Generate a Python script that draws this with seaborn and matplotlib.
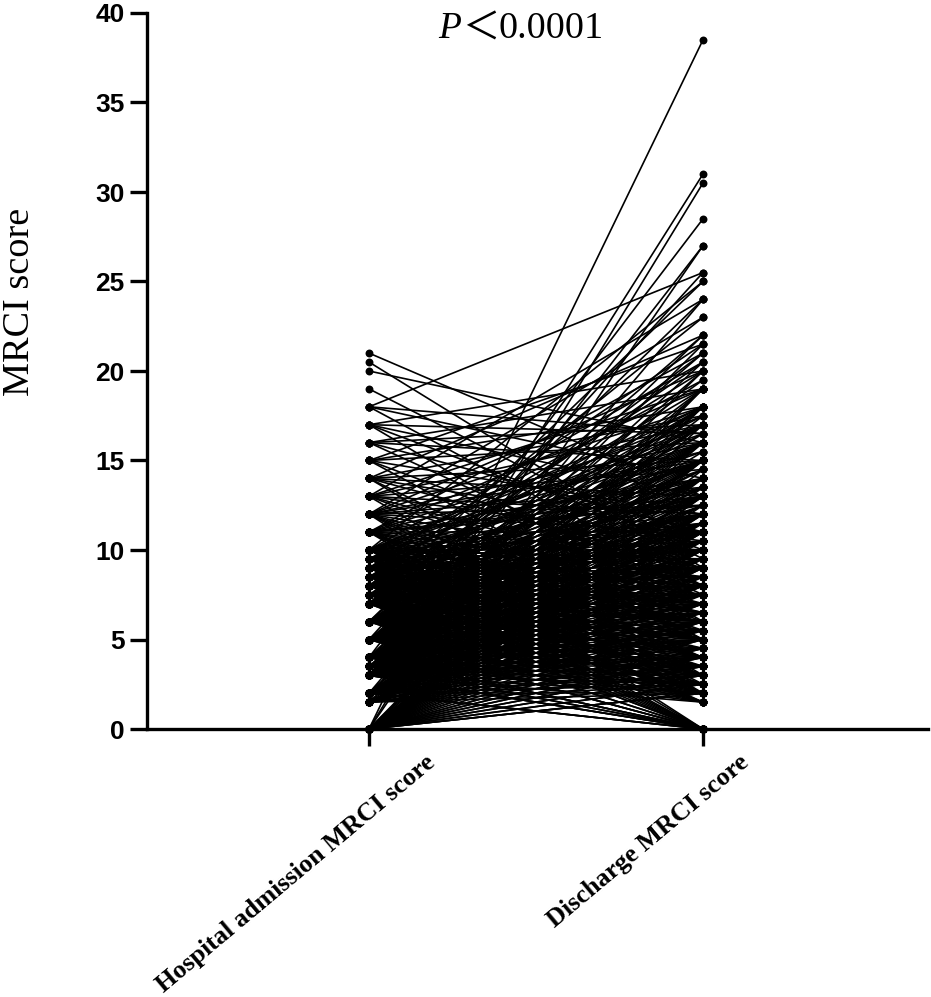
import matplotlib
matplotlib.use("Agg")
import matplotlib.pyplot as plt
import pandas as pd
import seaborn as sns
from matplotlib.transforms import ScaledTranslation

# Discharge scores read for the patients starting at each admission score
from_21 = [13]
from_20_5 = [9]
from_20 = [16]
from_19 = [9.5]
from_18 = [25.5, 14, 8, 16.5]
from_17 = [20, 16.5, 10, 6, 13]
from_16 = [19, 15, 11, 7.5, 17]
from_15 = [21.5, 16, 8, 12, 5, 18]
from_14 = [22, 17.5, 13, 9, 5, 15, 3, 11]
from_13 = [24, 17, 14.5, 10.5, 6, 12, 8, 2, 19]
from_12 = [23, 18, 16, 13.5, 11, 9, 7, 4, 0, 15, 20, 5.5, 2.5, 12.5]
from_11 = [21, 19, 17, 15.5, 12.5, 10, 8.5, 6.5, 3, 2, 0, 14, 11, 5, 7.5, 4, 13]
from_10 = [25, 20.5, 18, 16.5, 14, 13, 12, 11, 10, 9, 8, 7, 6, 5, 4, 3, 2, 1.5, 0, 15, 17.5, 9.5, 6.5, 16]
from_9_5 = [19.5, 17, 15, 12.5, 10.5, 8.5, 7.5, 5.5, 3.5, 2, 0, 13.5, 11.5]
from_9 = [21.5, 18, 16, 14, 12, 11, 10, 9, 8, 7, 6, 5, 4, 3, 2.5, 1.5, 0, 13, 15.5, 6.5, 9.5, 4.5]
from_8_5 = [20, 17, 15, 13, 11.5, 10, 8.5, 7, 5.5, 4, 2.5, 0, 12, 9, 6]
from_8 = [23, 19, 17.5, 16, 14.5, 13, 12, 11, 10, 9, 8, 7, 6, 5, 4, 3, 2, 1.5, 0, 15, 10.5, 8.5, 7.5, 3.5, 6.5]
from_7_5 = [20.5, 17, 15, 13.5, 12, 10.5, 9, 7.5, 6, 4.5, 3, 2, 0, 11, 8, 5, 14]
from_7 = [25, 21, 18, 16.5, 15, 14, 13, 12, 11, 10, 9, 8, 7, 6, 5, 4, 3, 2, 1.5, 0, 0, 11.5, 9.5, 7.5, 5.5, 3.5, 2.5, 16, 13.5, 10.5]
from_6 = [24, 22, 19.5, 18, 17, 16, 15, 14, 13, 12, 11, 10, 9, 8, 7, 6, 5, 4, 3, 2, 1.5, 0, 0, 12.5, 10.5, 8.5, 6.5, 4.5, 2.5, 14.5, 11.5, 9.5, 7.5, 5.5, 3.5]
from_5 = [25.5, 21, 19, 18, 17, 16, 15, 14, 13, 12, 11, 10, 9, 8, 7, 6, 5, 4, 3, 2, 1.5, 0, 0, 0, 13.5, 11.5, 9.5, 7.5, 5.5, 3.5, 2.5, 16.5, 14.5, 12.5, 10.5, 8.5, 6.5, 4.5]
from_4 = [28.5, 22, 20, 18, 17, 16, 15, 14, 13, 12, 11, 10, 9, 8, 7, 6, 5, 4, 3, 2, 1.5, 0, 0, 0, 15.5, 13.5, 11.5, 9.5, 7.5, 5.5, 3.5, 2.5, 12.5, 10.5, 8.5, 6.5, 4.5]
from_3_5 = [20.5, 17, 15, 13, 11, 10, 9, 8, 7, 6, 5, 4, 3, 2, 0, 0, 12, 9.5, 7.5, 5.5, 3.5, 2.5]
from_3 = [27, 21.5, 19, 17.5, 16, 15, 14, 13, 12, 11, 10, 9, 8, 7, 6, 5, 4, 3, 2, 1.5, 0, 0, 0, 12.5, 10.5, 8.5, 6.5, 4.5, 2.5, 11.5, 9.5, 7.5, 5.5, 3.5]
from_2 = [24, 20, 18, 16, 15, 14, 13, 12, 11, 10, 9, 8, 7, 6, 5, 4, 3, 2.5, 2, 0, 0, 0, 10.5, 8.5, 6.5, 4.5, 3.5, 11.5, 9.5, 7.5, 5.5]
from_1_5 = [31, 19, 15, 12, 10, 8, 7, 6, 5, 4, 3, 2.5, 2, 9, 11, 5.5, 3.5]
from_0 = [38.5, 30.5, 27, 19, 18, 17, 16, 15, 14.5, 14, 13.5, 13, 12.5, 12, 11.5, 11, 10.5, 10, 9.5, 9, 8.5, 8, 7.5, 7, 6.5, 6, 5.5, 5, 4.5, 4, 3.5, 3, 2.5, 2, 2, 2, 2.5, 3, 3.5, 4, 4.5, 5, 6, 7, 8, 9, 10, 11, 12, 13]

admission_groups = [
    (21, from_21), (20.5, from_20_5), (20, from_20), (19, from_19), (18, from_18),
    (17, from_17), (16, from_16), (15, from_15), (14, from_14), (13, from_13),
    (12, from_12), (11, from_11), (10, from_10), (9.5, from_9_5), (9, from_9),
    (8.5, from_8_5), (8, from_8), (7.5, from_7_5), (7, from_7), (6, from_6),
    (5, from_5), (4, from_4), (3.5, from_3_5), (3, from_3), (2, from_2),
    (1.5, from_1_5), (0, from_0),
]
categories = ["Hospital admission MRCI score", "Discharge MRCI score"]
y_ticks = [0, 5, 10, 15, 20, 25, 30, 35, 40]

rows = []
patient = 0
for start, ends in admission_groups:
    for end in ends:
        rows.append({"patient": patient, "time": 0, "score": start})
        rows.append({"patient": patient, "time": 1, "score": end})
        patient += 1
df = pd.DataFrame(rows)

W, H = 931, 997
sns.set_style("ticks")
plt.rcParams["font.family"] = ["Liberation Sans"]
plt.rcParams["text.color"] = "black"
plt.rcParams["xtick.color"] = "black"
plt.rcParams["ytick.color"] = "black"
fig = plt.figure(figsize=(W / 100, H / 100), dpi=100)
ax = fig.add_axes([147 / W, 1 - 729 / H, (928 - 147) / W, (729 - 13) / H])

sns.lineplot(
    data=df, x="time", y="score", units="patient", estimator=None,
    color="black", linewidth=1.2, marker="o", markersize=5.7,
    markeredgewidth=0, legend=False, ax=ax, clip_on=False, zorder=3,
)
ax.set_xlim(-222 / 334, 559 / 334)
ax.set_ylim(0, 40)
ax.set_yticks(y_ticks)
ax.set_xticks([0, 1])
ax.set_xlabel("")
ax.set_ylabel("")
sns.despine(ax=ax)
for s in ("left", "bottom"):
    ax.spines[s].set_linewidth(2.4)
    ax.spines[s].set_color("black")
ax.tick_params(axis="both", length=12, width=2.4, color="black")
ax.tick_params(axis="y", labelsize=19, pad=4)
for lab in ax.get_yticklabels():
    lab.set_fontweight("bold")
ax.set_xticklabels(categories, rotation=40, ha="right", va="top",
                   rotation_mode="anchor", fontsize=18.8, fontweight="bold",
                   family="Liberation Serif", color="black")
for lab, dx in zip(ax.get_xticklabels(), [56, 35]):
    lab.set_transform(lab.get_transform() + ScaledTranslation(dx / 100, 0, fig.dpi_scale_trans))

fig.text(20 / W, 1 - 302 / H, "MRCI score", rotation=90, ha="center", va="center",
         fontsize=27.5, family="Liberation Serif")
fig.text(438 / W, 1 - 38 / H, "P", fontsize=27, style="italic", family="Liberation Serif")
fig.text(462 / W, 1 - 40 / H, "＜", fontsize=27, family="Noto Sans CJK JP")
fig.text(499 / W, 1 - 38 / H, "0.0001", fontsize=27.5, family="Liberation Serif")

fig.savefig("out.png", dpi=100)
